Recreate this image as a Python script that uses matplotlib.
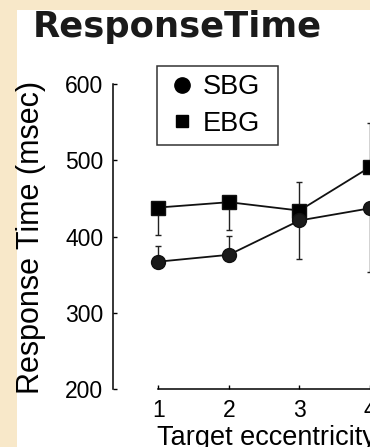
import matplotlib
matplotlib.use('Agg')
import matplotlib.pyplot as plt
from matplotlib.lines import Line2D
from matplotlib.patches import Rectangle

plt.rcParams['font.family'] = ['Liberation Sans', 'DejaVu Sans']

ecc = [1, 2, 3, 4]
sbg = [367, 376, 421, 437]
ebg = [438, 445, 434, 491]
# one-sided error bars
sbg_up = [20, 25, 0, 0]
sbg_dn = [0, 0, 50, 84]
ebg_up = [0, 0, 38, 58]
ebg_dn = [36, 37, 0, 0]
yticks = [200, 300, 400, 500, 600]

W, H = 370, 447
fig = plt.figure(figsize=(W / 100, H / 100), dpi=100, facecolor='#f8e8c9')
fig.patches.append(Rectangle((17 / W, 0), 1, 1 - 10 / H, transform=fig.transFigure,
                             facecolor='white', edgecolor='none', zorder=-10))

ax = fig.add_axes([113 / W, 1 - 389 / H, (W - 113) / W, (389 - 84) / H])
ax.set_facecolor('none')

ax.errorbar(ecc, ebg, yerr=[ebg_dn, ebg_up], fmt='none', ecolor='#222222',
            elinewidth=1.0, capsize=2.5, capthick=1.0, clip_on=False)
ax.errorbar(ecc, sbg, yerr=[sbg_dn, sbg_up], fmt='none', ecolor='#222222',
            elinewidth=1.0, capsize=2.5, capthick=1.0, clip_on=False)
ax.plot(ecc, ebg, color='#111111', lw=1.3, marker='s', ms=10, mfc='black',
        mec='#111111', clip_on=False)
ax.plot(ecc, sbg, color='#111111', lw=1.3, marker='o', ms=10, mfc='#1a1a1a',
        mec='#111111', clip_on=False)

ax.set_xlim(1 - 46 / 71.5, 1 + 211 / 71.5)
ax.set_ylim(200, 600)
ax.set_xticks(ecc)
ax.set_yticks(yticks)
ax.spines['top'].set_visible(False)
ax.spines['right'].set_visible(False)
ax.spines['left'].set_bounds(200, 600)
ax.spines['bottom'].set_bounds(1, 5)
for s in ('left', 'bottom'):
    ax.spines[s].set_linewidth(1.1)
ax.tick_params(direction='in', length=3, width=1.0, labelsize=16.5, pad=7)

handles = [Line2D([], [], ls='none', marker='o', ms=11, mfc='black', mec='black'),
           Line2D([], [], ls='none', marker='s', ms=8, mfc='black', mec='black')]
leg = fig.legend(handles, ['SBG', 'EBG'], loc='upper left', mode='expand',
                 bbox_to_anchor=(157 / W, 1 - 143 / H, 121 / W, 77 / H),
                 bbox_transform=fig.transFigure,
                 borderaxespad=0, fontsize=19.5, frameon=True, fancybox=False,
                 edgecolor='black', handlelength=1.25, handletextpad=0.15,
                 labelspacing=0.4, borderpad=0.3)
leg.get_frame().set_linewidth(1.1)

fig.text(33 / W, 1 - 37 / H, 'ResponseTime', fontsize=25.5, fontweight='bold',
         family='DejaVu Sans', ha='left', va='baseline', color='#1a1a1a')
fig.text(31 / W, 1 - 237 / H, 'Response Time (msec)', fontsize=22, rotation=90,
         ha='center', va='center')
fig.text(157 / W, 1 - 445 / H, 'Target eccentricity', fontsize=19.5,
         ha='left', va='baseline')

fig.savefig('out.png', dpi=100, facecolor=fig.get_facecolor())
